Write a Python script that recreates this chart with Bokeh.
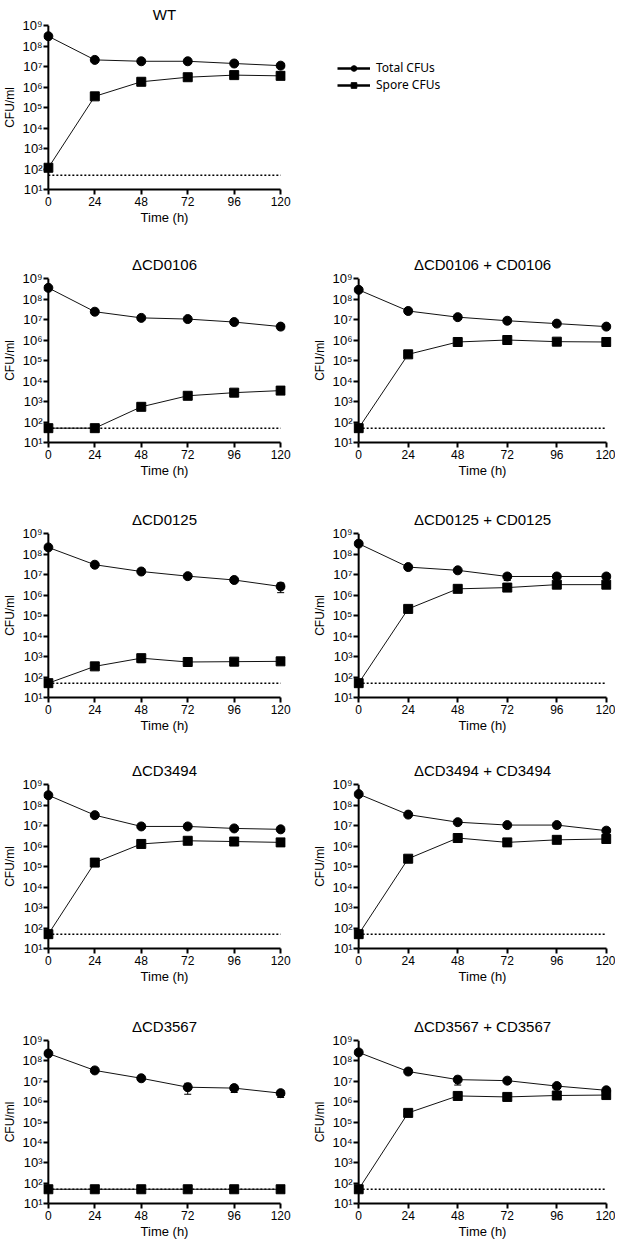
from bokeh.plotting import figure
from bokeh.layouts import column, row
from bokeh.models import FixedTicker, ColumnDataSource, Whisker, TeeHead, Legend, LegendItem, Span
from bokeh.embed import file_html
from bokeh.resources import INLINE

# ---------------- data ----------------
hours = [0, 24, 48, 72, 96, 120]
LOD = 50
y_ticks = [10, 100, 1000, 10000, 100000, 1000000, 10000000, 100000000, 1000000000]
y_tick_labels = ["10¹", "10²", "10³", "10⁴", "10⁵", "10⁶", "10⁷", "10⁸", "10⁹"]
x_tick_labels = ["0", "24", "48", "72", "96", "120"]

wt_total = [3.0e8, 2.1e7, 1.8e7, 1.8e7, 1.4e7, 1.1e7]
wt_total_err = [0, 0, 0, 0, 0, 0]
wt_spore = [1.15e2, 3.5e5, 1.8e6, 3.0e6, 3.8e6, 3.5e6]
wt_spore_err = [0, 0, 0, 0, 0, 0]

d0106_total = [3.5e8, 2.4e7, 1.2e7, 1.05e7, 7.5e6, 4.5e6]
d0106_total_err = [0, 0, 0, 0, 0, 1.3e6]
d0106_spore = [50, 50, 5.5e2, 1.9e3, 2.7e3, 3.4e3]
d0106_spore_err = [0, 0, 0, 0, 0, 0]

c0106_total = [2.8e8, 2.6e7, 1.3e7, 8.7e6, 6.3e6, 4.5e6]
c0106_total_err = [0, 0, 0, 0, 0, 1.0e6]
c0106_spore = [50, 2.0e5, 8.0e5, 1.0e6, 8.3e5, 8.0e5]
c0106_spore_err = [0, 0, 0, 0, 0, 0]

d0125_total = [2.1e8, 3.0e7, 1.4e7, 8.3e6, 5.4e6, 2.6e6]
d0125_total_err = [0, 0, 0, 0, 0, 1.3e6]
d0125_spore = [50, 3.3e2, 8.3e2, 5.4e2, 5.6e2, 5.8e2]
d0125_spore_err = [0, 1.0e2, 3.3e2, 0, 0, 1.8e2]

c0125_total = [3.2e8, 2.3e7, 1.6e7, 8.0e6, 8.0e6, 8.0e6]
c0125_total_err = [0, 0, 0, 2.9e6, 0, 0]
c0125_spore = [50, 2.1e5, 2.0e6, 2.3e6, 3.2e6, 3.2e6]
c0125_spore_err = [0, 0, 0, 0, 0, 0]

d3494_total = [3.0e8, 3.2e7, 9.0e6, 9.0e6, 7.2e6, 6.5e6]
d3494_total_err = [0, 0, 0, 0, 0, 0]
d3494_spore = [50, 1.55e5, 1.26e6, 1.8e6, 1.65e6, 1.5e6]
d3494_spore_err = [0, 0, 0, 0, 0, 0]

c3494_total = [3.4e8, 3.4e7, 1.45e7, 1.05e7, 1.05e7, 5.6e6]
c3494_total_err = [0, 0, 0, 0, 3.0e6, 2.0e6]
c3494_spore = [50, 2.4e5, 2.45e6, 1.5e6, 2.0e6, 2.2e6]
c3494_spore_err = [0, 0, 0, 0, 0, 0]

d3567_total = [2.3e8, 3.4e7, 1.4e7, 5.1e6, 4.6e6, 2.6e6]
d3567_total_err = [0, 0, 0, 2.8e6, 1.8e6, 1.0e6]
d3567_spore = [50, 50, 50, 50, 50, 50]
d3567_spore_err = [0, 0, 0, 0, 0, 0]

c3567_total = [2.6e8, 3.0e7, 1.2e7, 1.07e7, 5.8e6, 3.6e6]
c3567_total_err = [0, 0, 5.5e6, 0, 0, 0]
c3567_spore = [50, 2.8e5, 1.9e6, 1.7e6, 2.0e6, 2.1e6]
c3567_spore_err = [0, 0, 0, 0, 0, 0]

titles = ["WT", "ΔCD0106", "ΔCD0106 + CD0106", "ΔCD0125", "ΔCD0125 + CD0125",
          "ΔCD3494", "ΔCD3494 + CD3494", "ΔCD3567", "ΔCD3567 + CD3567"]
legend_labels = ["Total CFUs", "Spore CFUs"]

# ---------------- style / layout ----------------
FONT = "Liberation Sans"
PAD = 2.5
LEFT = dict(width=310, min_border_left=37, min_border_right=25)
RIGHT = dict(width=305, min_border_left=42, min_border_right=4)
ROWS = [
    dict(height=247, min_border_top=24, min_border_bottom=58, standoff=6),
    dict(height=255, min_border_top=30, min_border_bottom=60, standoff=12),
    dict(height=251, min_border_top=30, min_border_bottom=56, standoff=12),
    dict(height=256, min_border_top=30, min_border_bottom=61, standoff=12),
    dict(height=232, min_border_top=30, min_border_bottom=37, standoff=12),
]


def add_err(p, ys, errs):
    xs = [h for h, e in zip(hours, errs) if e > 0]
    if not xs:
        return
    up = [y + e for y, e in zip(ys, errs) if e > 0]
    lo = [max(y - e, y * 0.05) for y, e in zip(ys, errs) if e > 0]
    src = ColumnDataSource(dict(x=xs, upper=up, lower=lo))
    w = Whisker(source=src, base="x", upper="upper", lower="lower",
                line_color="black", line_width=1,
                upper_head=TeeHead(size=7, line_color="black", line_width=1),
                lower_head=TeeHead(size=7, line_color="black", line_width=1))
    p.add_layout(w)


def panel(title, total, total_err, spore, spore_err, col, rw):
    p = figure(width=col["width"], height=rw["height"],
               min_border_left=col["min_border_left"], min_border_right=col["min_border_right"],
               min_border_top=rw["min_border_top"], min_border_bottom=rw["min_border_bottom"],
               y_axis_type="log",
               x_range=(hours[0] - PAD, hours[-1] + PAD),
               y_range=(y_ticks[0], y_ticks[-1]),
               output_backend="svg", toolbar_location=None)
    p.title.text = title
    p.title.align = "center"
    p.title.text_font = FONT
    p.title.text_font_size = "15px"
    p.title.text_font_style = "normal"
    p.title.text_color = "black"
    p.title.standoff = rw["standoff"]
    p.outline_line_color = None
    p.xgrid.visible = False
    p.ygrid.visible = False
    p.background_fill_color = "white"
    p.border_fill_color = "white"

    for ax in (p.xaxis[0], p.yaxis[0]):
        ax.axis_line_width = 2
        ax.axis_line_color = "black"
        ax.major_tick_line_width = 2
        ax.major_tick_line_color = "black"
        ax.minor_tick_line_color = None
        ax.major_label_text_font = FONT
        ax.major_label_text_color = "black"
        ax.axis_label_text_font = FONT
        ax.axis_label_text_font_style = "normal"
        ax.axis_label_text_color = "black"
    # x axis: at the bottom edge, line limited to 0..120
    p.xaxis.ticker = FixedTicker(ticks=hours)
    p.xaxis.major_label_overrides = dict(zip(hours, x_tick_labels))
    p.xaxis.bounds = (hours[0], hours[-1])
    p.xaxis.major_tick_out = 5
    p.xaxis.major_tick_in = 0
    p.xaxis.major_label_standoff = 2
    p.xaxis.major_label_text_font_size = "12px"
    p.xaxis.axis_label = "Time (h)"
    p.xaxis.axis_label_text_font_size = "13px"
    p.xaxis.axis_label_standoff = 1
    # y axis: ticks run inward from the frame edge up to the line at t = 0
    p.yaxis.ticker = FixedTicker(ticks=y_ticks)
    p.yaxis.major_label_overrides = dict(zip(y_ticks, y_tick_labels))
    p.yaxis.major_label_text_font_size = "13px"
    p.yaxis.axis_line_color = None
    p.yaxis.major_tick_out = 0
    p.yaxis.major_tick_in = 5
    p.yaxis.major_label_standoff = 1
    p.yaxis.axis_label = "CFU/ml"
    p.yaxis.axis_label_text_font_size = "12px"
    p.yaxis.axis_label_standoff = 2
    p.add_layout(Span(location=hours[0], dimension="height", line_color="black", line_width=2))

    # detection limit
    p.line([hours[0], hours[-1]], [LOD, LOD], line_color="black", line_width=1.5, line_dash="2 2")
    p.line(hours, total, line_color="#111111", line_width=1)
    p.line(hours, spore, line_color="#111111", line_width=1)
    add_err(p, total, total_err)
    add_err(p, spore, spore_err)
    p.scatter(hours, total, marker="circle", size=9, color="black")
    p.scatter(hours, spore, marker="square", size=9, color="black")
    return p


def legend_fig(rw):
    p = figure(width=RIGHT["width"], height=rw["height"],
               min_border_left=27, min_border_right=RIGHT["min_border_right"],
               min_border_top=rw["min_border_top"], min_border_bottom=rw["min_border_bottom"],
               x_axis_location=None, y_axis_location=None,
               x_range=(0, 1), y_range=(0, 1),
               output_backend="svg", toolbar_location=None)
    p.outline_line_color = None
    p.grid.visible = False
    # hidden renderers: only their legend glyphs are shown
    l1 = p.line(hours, wt_total, line_color="black", line_width=2.5, visible=False)
    m1 = p.scatter(hours, wt_total, marker="circle", size=8, color="black", visible=False)
    l2 = p.line(hours, wt_spore, line_color="black", line_width=2.5, visible=False)
    m2 = p.scatter(hours, wt_spore, marker="square", size=8, color="black", visible=False)
    leg = Legend(items=[LegendItem(label=legend_labels[0], renderers=[l1, m1]),
                        LegendItem(label=legend_labels[1], renderers=[l2, m2])],
                 location=(0, 96),
                 glyph_width=33, glyph_height=14, label_height=14,
                 label_standoff=6, spacing=-2, padding=0, margin=0,
                 border_line_color=None, background_fill_alpha=0,
                 inactive_fill_alpha=0,
                 label_text_font="Noto Sans", label_text_font_size="12px",
                 label_text_color="black")
    p.add_layout(leg)
    return p


series = [
    (wt_total, wt_total_err, wt_spore, wt_spore_err),
    (d0106_total, d0106_total_err, d0106_spore, d0106_spore_err),
    (c0106_total, c0106_total_err, c0106_spore, c0106_spore_err),
    (d0125_total, d0125_total_err, d0125_spore, d0125_spore_err),
    (c0125_total, c0125_total_err, c0125_spore, c0125_spore_err),
    (d3494_total, d3494_total_err, d3494_spore, d3494_spore_err),
    (c3494_total, c3494_total_err, c3494_spore, c3494_spore_err),
    (d3567_total, d3567_total_err, d3567_spore, d3567_spore_err),
    (c3567_total, c3567_total_err, c3567_spore, c3567_spore_err),
]

rows = [row(panel(titles[0], *series[0], LEFT, ROWS[0]), legend_fig(ROWS[0]))]
for r in range(1, 5):
    i = 2 * r - 1
    rows.append(row(panel(titles[i], *series[i], LEFT, ROWS[r]),
                    panel(titles[i + 1], *series[i + 1], RIGHT, ROWS[r])))

layout = column(*rows, spacing=0)
open("out.html", "w").write(file_html(layout, INLINE))
